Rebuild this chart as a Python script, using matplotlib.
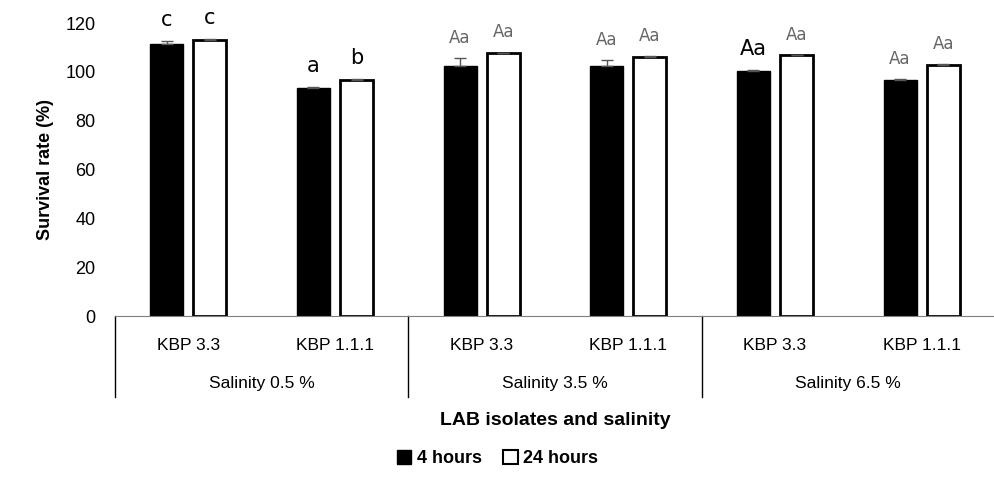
import numpy as np
import matplotlib.pyplot as plt
from matplotlib.patches import Patch

# Données
isolates = ["KBP 3.3", "KBP 1.1.1", "KBP 3.3", "KBP 1.1.1", "KBP 3.3", "KBP 1.1.1"]
groups = ["Salinity 0.5 %", "Salinity 3.5 %", "Salinity 6.5 %"]
h4 = [111.5, 93.2, 102.2, 102.6, 100.4, 96.6]
h24 = [113.0, 96.7, 107.7, 106.1, 106.7, 102.9]
err4 = [1.0, 0.4, 3.3, 2.2, 0.4, 0.3]
err24 = [0.4, 0.5, 0.2, 0.4, 0.2, 0.4]
lab4 = ["c", "a", "Aa", "Aa", "Aa", "Aa"]
lab24 = ["c", "b", "Aa", "Aa", "Aa", "Aa"]

plt.rcParams['font.family'] = ['Liberation Sans', 'DejaVu Sans']

fig = plt.figure(figsize=(9.95, 4.94), dpi=100)
ax = fig.add_axes([0.1156, 0.3603, 0.8844, 0.5931])

x = np.arange(len(isolates))
w = 0.225
off = 0.147
# barres d'erreur seulement vers le haut (comme Excel "plus")
ax.bar(x - off, h4, w, color="black", edgecolor="black",
       yerr=[np.zeros(len(x)), err4], error_kw=dict(ecolor="#555555", capsize=4, elinewidth=1))
ax.bar(x + off, h24, w, color="white", edgecolor="black", linewidth=2,
       yerr=[np.zeros(len(x)), err24], error_kw=dict(ecolor="#555555", capsize=4, elinewidth=1))

# Lettres de significativité
for i in range(len(x)):
    for xx, v, e, t in [(x[i] - off, h4[i], err4[i], lab4[i]), (x[i] + off, h24[i], err24[i], lab24[i])]:
        if t == "Aa":
            big = (i == 4 and xx < x[i])
            col = "black" if big else "#666666"
            fs = 15 if big else 12
        else:
            col, fs = "black", 15
        ax.annotate(t, (xx, v + e), xytext=(0, 8), textcoords="offset points",
                    ha="center", va="bottom", color=col, fontsize=fs, family="DejaVu Sans")

ax.set_xlim(-0.5, len(x) - 0.5)
ax.set_ylim(0, 120)
ax.set_yticks(np.arange(0, 121, 20))
ax.tick_params(axis="y", length=0, labelsize=13, pad=14)
ax.tick_params(axis="x", length=0, labelsize=12.5, pad=16)
ax.set_xticks(x)
ax.set_xticklabels(isolates)
for s in ["top", "right", "left"]:
    ax.spines[s].set_visible(False)
ax.spines["bottom"].set_color("#808080")
ax.set_ylabel("Survival rate (%)", fontsize=13, fontweight="bold", labelpad=8)

# Séparateurs et étiquettes des groupes
for k in range(3):
    ax.plot([2 * k - 0.5, 2 * k - 0.5], [0, -0.276], transform=ax.get_xaxis_transform(),
            color="black", lw=1, clip_on=False)
    ax.text(2 * k + 0.5, -0.23, groups[k], transform=ax.get_xaxis_transform(),
            ha="center", va="center", fontsize=12.5)

ax.text(0.5, -0.355, "LAB isolates and salinity", transform=ax.transAxes,
        ha="center", va="center", fontsize=14, fontweight="bold")

handles = [Patch(facecolor="black", edgecolor="black"),
           Patch(facecolor="white", edgecolor="black", linewidth=1.5)]
fig.legend(handles, ["4 hours", "24 hours"], loc="center", bbox_to_anchor=(0.5, 0.072),
           ncol=2, frameon=False, prop=dict(weight="bold", size=13),
           handlelength=0.8, handleheight=0.8, handletextpad=0.3, columnspacing=1.2)

fig.savefig("out.png", dpi=100)
